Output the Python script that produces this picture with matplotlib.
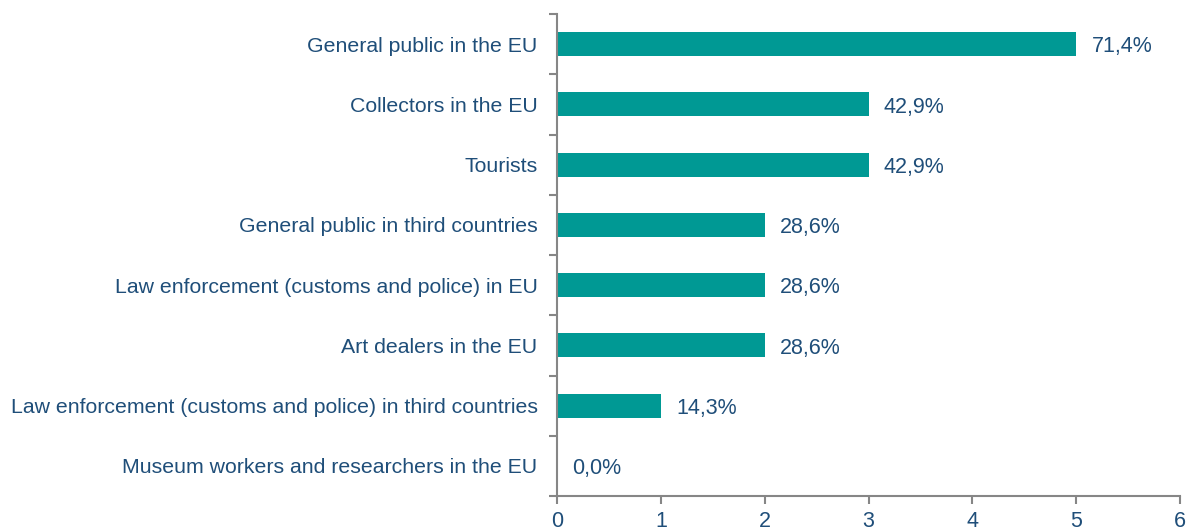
import numpy as np
import matplotlib.pyplot as plt
from matplotlib.ticker import FixedLocator

plt.rcParams['font.family'] = ['Liberation Sans', 'DejaVu Sans']

categories = ["General public in the EU",
              "Collectors in the EU",
              "Tourists",
              "General public in third countries",
              "Law enforcement (customs and police) in EU",
              "Art dealers in the EU",
              "Law enforcement (customs and police) in third countries",
              "Museum workers and researchers in the EU"]
counts = [5, 3, 3, 2, 2, 2, 1, 0]
labels = ["71,4%", "42,9%", "42,9%", "28,6%", "28,6%", "28,6%", "14,3%", "0,0%"]

bar_col = '#009994'
txt_col = '#1F4E79'
axis_col = '#868686'

fig = plt.figure(figsize=(11.92, 5.29), dpi=100)
ax = fig.add_axes([557/1192, 1 - 496/529, (1180-557)/1192, (496-14)/529])

y = np.arange(len(categories))
ax.barh(y, counts, height=0.4, color=bar_col)
ax.set_ylim(len(categories) - 0.5, -0.5)
ax.set_xlim(0, 6)

# value labels right of each bar
for yi, c, lab in zip(y, counts, labels):
    ax.annotate(lab, (c, yi), xytext=(11, -2), textcoords='offset points',
                va='center', ha='left', fontsize=15.5, color=txt_col)

ax.set_yticks(y)
ax.set_yticklabels(categories, fontsize=15.3, color=txt_col)
ax.tick_params(axis='y', which='major', length=0, pad=14)
# tick marks sit between categories
ax.yaxis.set_minor_locator(FixedLocator(np.arange(len(categories) + 1) - 0.5))
ax.tick_params(axis='y', which='minor', length=6, width=1.5, color=axis_col)

ax.set_xticks(range(7))
ax.tick_params(axis='x', length=6, width=1.5, color=axis_col, labelsize=15.5,
               labelcolor=txt_col, pad=5)

for s in ['top', 'right']:
    ax.spines[s].set_visible(False)
for s in ['left', 'bottom']:
    ax.spines[s].set_color(axis_col)
    ax.spines[s].set_linewidth(1.5)

fig.savefig('out.png', dpi=100)
